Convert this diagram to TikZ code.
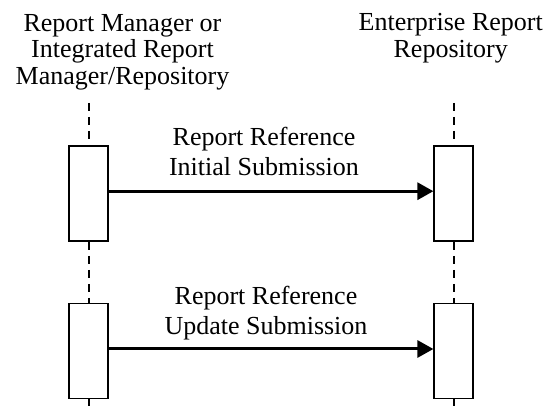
\documentclass[tikz,border=0pt]{standalone}
\usepackage{fontspec}
\setmainfont{Liberation Serif}
\usetikzlibrary{arrows.meta}
\tikzset{
  actbox/.style={draw=black, line width=1.6pt, fill=white, minimum width=39pt, minimum height=95pt, inner sep=0pt},
  lifeline/.style={draw=black, line width=2pt, dash pattern=on 8pt off 6pt},
  msg/.style={draw=black, line width=3pt, -{Triangle[length=16pt,width=17pt]}},
  hdr/.style={anchor=north, inner sep=0pt, align=center, font=\fontsize{26}{26.7}\selectfont},
  lbl/.style={anchor=north, inner sep=0pt, align=center, font=\fontsize{26}{30}\selectfont},
}
\begin{document}
\begin{tikzpicture}[x=1pt, y=-1pt]
\useasboundingbox (0,0) rectangle (547,406);
% headers
\node[hdr] (hl) at (122.5,13.8) {Report Manager or\\Integrated Report\\Manager/Repository};
\node[hdr] (hr) at (450.7,13.2) {Enterprise Report\\Repository};
% lifeline ends
\coordinate (lt) at (88.5,103);
\coordinate (rt) at (453.7,103);
\coordinate (lb) at (88.5,406);
\coordinate (rb) at (453.7,406);
% activation boxes
\node[actbox] (l1) at (88.5,193.5) {};
\node[actbox] (l2) at (88.5,351.2) {};
\node[actbox] (r1) at (453.7,193.5) {};
\node[actbox] (r2) at (453.7,351.2) {};
% lifelines
\draw[lifeline] (lt) -- (l1.north);
\draw[lifeline] (l1.south) -- (l2.north);
\draw[lifeline] (l2.south) -- (lb);
\draw[lifeline] (rt) -- (r1.north);
\draw[lifeline] (r1.south) -- (r2.north);
\draw[lifeline] (r2.south) -- (rb);
% messages
\draw[msg] ([yshift=2.3pt]l1.east) -- ([yshift=2.3pt]r1.west);
\draw[msg] ([yshift=2.2pt]l2.east) -- ([yshift=2.2pt]r2.west);
% labels
\node[lbl] (m1) at (264,127.3) {Report Reference\\Initial Submission};
\node[lbl] (m2) at (266,285.6) {Report Reference\\Update Submission};
\end{tikzpicture}
\end{document}
